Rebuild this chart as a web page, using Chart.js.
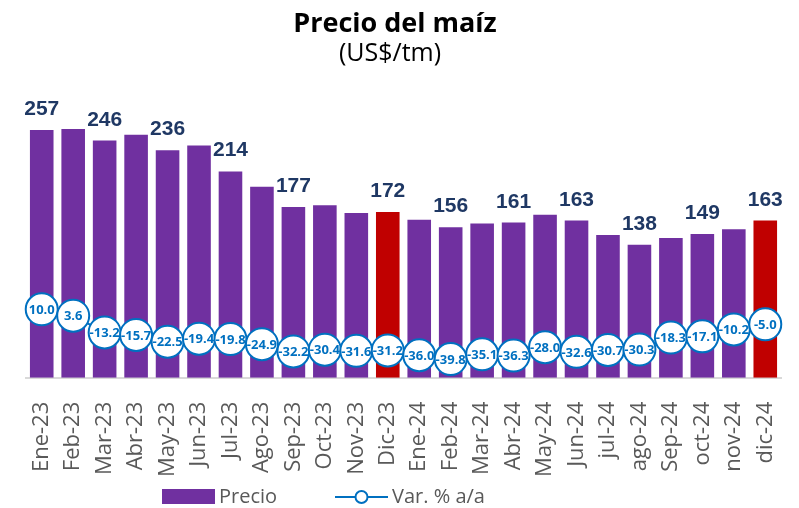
<!DOCTYPE html>
<html>
<head>
<meta charset="utf-8">
<script src="https://cdn.jsdelivr.net/npm/chart.js@4.4.1/dist/chart.umd.min.js"></script>
<style>
  html, body { margin: 0; padding: 0; background: #fff; }
</style>
</head>
<body>
<canvas id="chart" width="799" height="508"></canvas>
<script>
const months = ["Ene-23", "Feb-23", "Mar-23", "Abr-23", "May-23", "Jun-23", "Jul-23", "Ago-23",
  "Sep-23", "Oct-23", "Nov-23", "Dic-23", "Ene-24", "Feb-24", "Mar-24", "Abr-24", "May-24",
  "Jun-24", "jul-24", "ago-24", "Sep-24", "oct-24", "nov-24", "dic-24"];
const precio = [257, 258, 246, 252, 236, 241, 214, 198, 177, 179, 171, 172,
  164, 156, 160, 161, 169, 163, 148, 138, 145, 149, 154, 163];
const variacion = [10.0, 3.6, -13.2, -15.7, -22.5, -19.4, -19.8, -24.9, -32.2, -30.4, -31.6, -31.2,
  -36.0, -39.8, -35.1, -36.3, -28.0, -32.6, -30.7, -30.3, -18.3, -17.1, -10.2, -5.0];
// bars that carry a value label, and the December bars shown in red
const labelledMonths = ["Ene-23", "Mar-23", "May-23", "Jul-23", "Sep-23", "Dic-23",
  "Feb-24", "Abr-24", "Jun-24", "ago-24", "oct-24", "dic-24"];
const highlightMonths = ["Dic-23", "dic-24"];
const titleText = "Precio del maíz";
const subtitleText = "(US$/tm)";

const PURPLE = "#7030A0";
const RED = "#C00000";
const BLUE = "#0070C0";

// title drawn by hand: the original sits a bit left of the canvas centre
const titleBlock = {
  id: "titleBlock",
  afterDraw(chart) {
    const ctx = chart.ctx;
    ctx.save();
    ctx.fillStyle = "#000";
    ctx.textAlign = "center";
    ctx.textBaseline = "alphabetic";
    ctx.font = "bold 27px 'Open Sans', sans-serif";
    ctx.fillText(titleText, 395, 32);
    ctx.font = "25px 'Open Sans', sans-serif";
    ctx.fillText(subtitleText, 390, 61);
    ctx.restore();
  }
};

// value labels above bars and inside the circles
const valueLabels = {
  id: "valueLabels",
  afterDatasetsDraw(chart) {
    const ctx = chart.ctx;
    ctx.save();
    ctx.textAlign = "center";

    ctx.font = "bold 21px 'Liberation Sans', Arial, sans-serif";
    ctx.fillStyle = "#1F3864";
    ctx.textBaseline = "alphabetic";
    chart.getDatasetMeta(0).data.forEach((bar, i) => {
      if (!labelledMonths.includes(months[i])) return;
      ctx.fillText(String(precio[i]), bar.x, bar.y - 15);
    });

    ctx.font = "bold 13px 'Open Sans', sans-serif";
    ctx.fillStyle = BLUE;
    ctx.textBaseline = "middle";
    chart.getDatasetMeta(1).data.forEach((pt, i) => {
      ctx.fillText(variacion[i].toFixed(1), pt.x, pt.y + 1);
    });
    ctx.restore();
  }
};

// legend drawn by hand so it can sit left of centre like the original
const customLegend = {
  id: "customLegend",
  afterDraw(chart) {
    const ctx = chart.ctx;
    const y = 497;
    ctx.save();
    ctx.fillStyle = PURPLE;
    ctx.fillRect(162, y - 8, 53, 15);
    ctx.font = "20px 'Open Sans', sans-serif";
    ctx.fillStyle = "#595959";
    ctx.textBaseline = "middle";
    ctx.textAlign = "left";
    ctx.fillText(chart.data.datasets[0].label, 219, y);

    ctx.strokeStyle = BLUE;
    ctx.lineWidth = 2;
    ctx.beginPath();
    ctx.moveTo(335, y);
    ctx.lineTo(388, y);
    ctx.stroke();
    ctx.beginPath();
    ctx.arc(361.5, y, 6, 0, Math.PI * 2);
    ctx.fillStyle = "#fff";
    ctx.fill();
    ctx.stroke();
    ctx.fillStyle = "#595959";
    ctx.fillText(chart.data.datasets[1].label, 392, y);
    ctx.restore();
  }
};

new Chart(document.getElementById("chart"), {
  data: {
    labels: months,
    datasets: [
      {
        type: "bar",
        label: "Precio",
        data: precio,
        yAxisID: "y",
        order: 2,
        backgroundColor: months.map(m => highlightMonths.includes(m) ? RED : PURPLE),
        barPercentage: 0.75,
        categoryPercentage: 1.0
      },
      {
        type: "line",
        label: "Var. % a/a",
        data: variacion,
        yAxisID: "y2",
        order: 1,
        borderColor: BLUE,
        borderWidth: 2,
        tension: 0,
        pointRadius: 16,
        pointBorderWidth: 2,
        pointBackgroundColor: "#fff",
        pointBorderColor: BLUE
      }
    ]
  },
  options: {
    responsive: false,
    animation: false,
    layout: { padding: { left: 26, right: 7, top: 76, bottom: 15 } },
    plugins: {
      legend: { display: false },
      tooltip: { enabled: false },
      title: { display: false }
    },
    scales: {
      x: {
        grid: { display: false },
        border: { display: true, color: "#D9D9D9", width: 2 },
        ticks: {
          color: "#595959",
          font: { family: "'Open Sans', sans-serif", size: 22 },
          minRotation: 90,
          maxRotation: 90,
          autoSkip: false,
          padding: 16
        },
        // rotated labels fit inside the bar slots, no extra side padding
        afterFit(scale) {
          scale.paddingLeft = 0;
          scale.paddingRight = 0;
        }
      },
      y: {
        display: false,
        min: 0,
        max: 313
      },
      y2: {
        display: false,
        position: "right",
        min: -58.5,
        max: 243.5
      }
    }
  },
  plugins: [valueLabels, customLegend, titleBlock]
});
</script>
</body>
</html>
